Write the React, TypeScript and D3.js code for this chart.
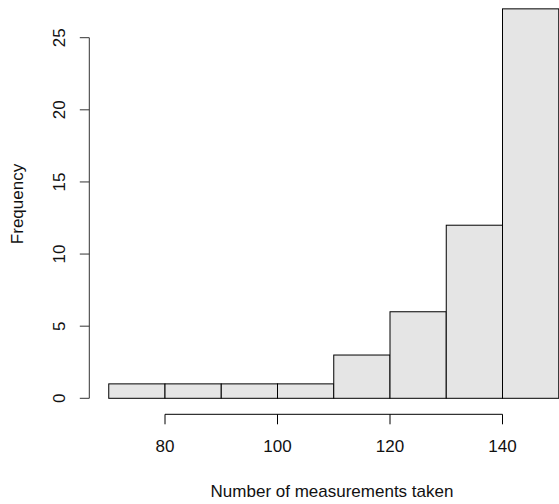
import React from "react";
import * as d3 from "d3";

// Histogram bins (lower edge, upper edge) and counts
const binStarts = [70, 80, 90, 100, 110, 120, 130, 140];
const binEnds = [80, 90, 100, 110, 120, 130, 140, 150];
const counts = [1, 1, 1, 1, 3, 6, 12, 27];
const xTicks = [80, 100, 120, 140];
const yTicks = [0, 5, 10, 15, 20, 25];

const W = 559;
const H = 504;
const FONT = "'Liberation Sans', Arial, sans-serif";
const FS = 17;

export default function App() {
  const x = d3.scaleLinear().domain([80, 140]).range([165, 502.5]);
  const y = d3.scaleLinear().domain([0, 25]).range([398.3, 37.7]);
  const axisX0 = 89.3;
  const axisY0 = 414.3;

  return (
    <svg
      width={W}
      height={H}
      style={{ position: "absolute", left: 0, top: 0, background: "#fff" }}
      fontFamily={FONT}
    >
      {/* bars */}
      {counts.map((c, i) => (
        <rect
          key={i}
          x={x(binStarts[i])}
          y={y(c)}
          width={x(binEnds[i]) - x(binStarts[i])}
          height={y(0) - y(c)}
          fill="#e5e5e5"
          stroke="#000"
          strokeWidth={1}
        />
      ))}

      {/* x axis */}
      <line x1={x(80)} x2={x(140)} y1={axisY0} y2={axisY0} stroke="#000" />
      {xTicks.map((t) => (
        <g key={t}>
          <line x1={x(t)} x2={x(t)} y1={axisY0} y2={axisY0 + 10} stroke="#000" />
          <text x={x(t)} y={452} textAnchor="middle" fontSize={FS} fill="#111">
            {t}
          </text>
        </g>
      ))}

      {/* y axis */}
      <line x1={axisX0} x2={axisX0} y1={y(0)} y2={y(25)} stroke="#333" />
      {yTicks.map((t) => (
        <g key={t}>
          <line x1={axisX0 - 9.5} x2={axisX0} y1={y(t)} y2={y(t)} stroke="#333" />
          <text
            transform={`translate(64.5,${y(t)}) rotate(-90)`}
            textAnchor="middle"
            fontSize={FS}
            fill="#111"
          >
            {t}
          </text>
        </g>
      ))}

      {/* axis titles */}
      <text x={332} y={496.5} textAnchor="middle" fontSize={FS} fill="#111">
        Number of measurements taken
      </text>
      <text
        transform={`translate(22.5,204) rotate(-90)`}
        textAnchor="middle"
        fontSize={FS}
        fill="#111"
      >
        Frequency
      </text>
    </svg>
  );
}
